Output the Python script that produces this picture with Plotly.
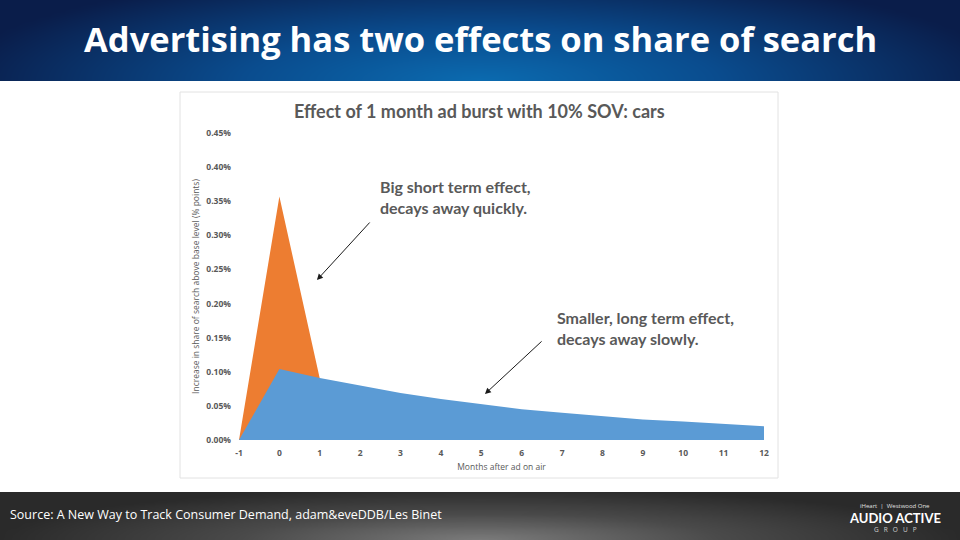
import numpy as np
import plotly.graph_objects as go

# ---- data ----
months = [-1, 0, 1, 2, 3, 4, 5, 6, 7, 8, 9, 10, 11, 12]
short_term = [0.0, 0.357, 0.090, 0.020, 0.005, 0.0, 0.0, 0.0, 0.0, 0.0, 0.0, 0.0, 0.0, 0.0]
long_term = [0.0, 0.104, 0.091, 0.080, 0.069, 0.060, 0.052, 0.045, 0.040, 0.035, 0.030, 0.027, 0.023, 0.020]
y_ticks = [0.0, 0.05, 0.10, 0.15, 0.20, 0.25, 0.30, 0.35, 0.40, 0.45]

slide_title = "Advertising has two effects on share of search"
chart_title = "Effect of 1 month ad burst with 10% SOV: cars"
x_title = "Months after ad on air"
y_title = "Increase in share of search above base level (% points)"
note_short = "Big short term effect,<br>decays away quickly."
note_long = "Smaller, long term effect,<br>decays away slowly."
source_text = "Source: A New Way to Track Consumer Demand, adam&eveDDB/Les Binet"

W, H = 960, 540
def px(x):
    return x / W
def py(y):
    return 1 - y / H

fig = go.Figure()

# ---- decorative header / footer gradients ----
gx = np.linspace(0, 1, 61)
gy = np.linspace(0, 1, 21)
GX, GY = np.meshgrid(gx, gy)
head_z = np.clip(np.sqrt(((GX - 0.5) / 0.55) ** 2 + (GY / 1.4) ** 2), 0, 1)
fig.add_trace(go.Heatmap(x=gx, y=gy, z=head_z, xaxis="x2", yaxis="y2", zsmooth="best",
                         showscale=False, hoverinfo="skip", zmin=0, zmax=1,
                         colorscale=[[0, "#0b6bb0"], [0.45, "#0a4c8e"], [1, "#0a1d4a"]]))
foot_z = np.clip(np.sqrt(((GX - 0.5) / 0.5) ** 2 + (GY / 1.1) ** 2), 0, 1)
fig.add_trace(go.Heatmap(x=gx, y=gy, z=foot_z, xaxis="x3", yaxis="y3", zsmooth="best",
                         showscale=False, hoverinfo="skip", zmin=0, zmax=1,
                         colorscale=[[0, "#7c7c7c"], [0.5, "#4a4a4a"], [1, "#2a2a2a"]]))

# ---- chart series ----
fig.add_trace(go.Scatter(x=months, y=short_term, mode="lines", fill="tozeroy",
                         line=dict(color="#ED7D31", width=0), fillcolor="#ED7D31",
                         name="Short term", hoverinfo="x+y"))
fig.add_trace(go.Scatter(x=months, y=long_term, mode="lines", fill="tozeroy",
                         line=dict(color="#5B9BD5", width=0), fillcolor="#5B9BD5",
                         name="Long term", hoverinfo="x+y"))

tick_font = dict(family="Open Sans", size=8.5, color="#595959", weight="bold")
axis_title_font = dict(family="Open Sans", size=8.5, color="#595959")

fig.update_layout(
    width=W, height=H,
    margin=dict(l=0, r=0, t=0, b=0, pad=0, autoexpand=False),
    paper_bgcolor="white", plot_bgcolor="rgba(0,0,0,0)",
    showlegend=False,
    xaxis=dict(domain=[px(239), px(764)], range=[-1, 12], tickmode="array",
               tickvals=months, ticktext=[str(m) for m in months],
               showgrid=False, zeroline=False, showline=False, ticks="", automargin=False,
               tickfont=tick_font, ticklabelstandoff=6,
               title=dict(text=x_title, font=axis_title_font, standoff=7)),
    yaxis=dict(domain=[py(440), py(133)], range=[0, 0.45], tickmode="array",
               tickvals=y_ticks, ticktext=[f"{v:.2f}%" for v in y_ticks],
               showgrid=False, zeroline=False, showline=False, ticks="", automargin=False,
               tickfont=tick_font, ticklabelstandoff=7,
               title=dict(text=y_title, font=axis_title_font, standoff=5)),
    xaxis2=dict(domain=[0, 1], range=[0, 1], visible=False, fixedrange=True, automargin=False),
    yaxis2=dict(domain=[py(81), 1], range=[0, 1], visible=False, fixedrange=True, automargin=False),
    xaxis3=dict(domain=[0, 1], range=[0, 1], visible=False, fixedrange=True, automargin=False),
    yaxis3=dict(domain=[0, py(492)], range=[0, 1], visible=False, fixedrange=True, automargin=False),
)

# chart frame
fig.add_shape(type="rect", xref="paper", yref="paper",
              x0=px(180), x1=px(778), y0=py(478), y1=py(92),
              line=dict(color="#e2e2e2", width=1), fillcolor="white", layer="below")

# slide title
fig.add_annotation(text=slide_title, xref="paper", yref="paper", x=0.5, y=py(39),
                   showarrow=False, xanchor="center", yanchor="middle",
                   font=dict(family="Open Sans", size=34.5, color="white", weight="bold"))
# chart title
fig.add_annotation(text=chart_title, xref="paper", yref="paper", x=px(479), y=py(111),
                   showarrow=False, xanchor="center", yanchor="middle",
                   font=dict(family="Lato", size=18, color="#595959", weight="bold"))

# notes
fig.add_annotation(text=note_short, x=2.44, y=0.356, xref="x", yref="y", showarrow=False,
                   xanchor="left", yanchor="middle", align="left",
                   font=dict(family="Lato", size=16, color="#595959", weight="bold"))
fig.add_annotation(text=note_long, x=6.83, y=0.164, xref="x", yref="y", showarrow=False,
                   xanchor="left", yanchor="middle", align="left",
                   font=dict(family="Lato", size=16, color="#595959", weight="bold"))
# arrows
fig.add_annotation(x=0.93, y=0.2345, ax=2.27, ay=0.321, xref="x", yref="y", axref="x", ayref="y",
                   text="", showarrow=True, arrowhead=2, arrowsize=1.2, arrowwidth=1, arrowcolor="#1a1a1a")
fig.add_annotation(x=5.09, y=0.0674, ax=6.53, ay=0.1466, xref="x", yref="y", axref="x", ayref="y",
                   text="", showarrow=True, arrowhead=2, arrowsize=1.2, arrowwidth=1, arrowcolor="#1a1a1a")

# footer text
fig.add_annotation(text=source_text, xref="paper", yref="paper", x=px(8), y=py(514),
                   showarrow=False, xanchor="left", yanchor="middle",
                   font=dict(family="Open Sans", size=12.5, color="white"))
fig.add_annotation(text="iHeart  |  Westwood One", xref="paper", yref="paper", x=px(895), y=py(506),
                   showarrow=False, xanchor="center", yanchor="middle",
                   font=dict(family="Open Sans", size=6, color="#e0e0e0"))
fig.add_annotation(text="AUDIO ACTIVE", xref="paper", yref="paper", x=px(895), y=py(518),
                   showarrow=False, xanchor="center", yanchor="middle",
                   font=dict(family="Lato", size=13, color="white", weight="bold"))
fig.add_annotation(text="G   R   O   U   P", xref="paper", yref="paper", x=px(895), y=py(529),
                   showarrow=False, xanchor="center", yanchor="middle",
                   font=dict(family="Open Sans", size=6.5, color="#cfcfcf"))

fig.write_html("out.html", config={"displayModeBar": False},
               post_script="document.body.style.margin='0';document.body.style.overflow='hidden';")
